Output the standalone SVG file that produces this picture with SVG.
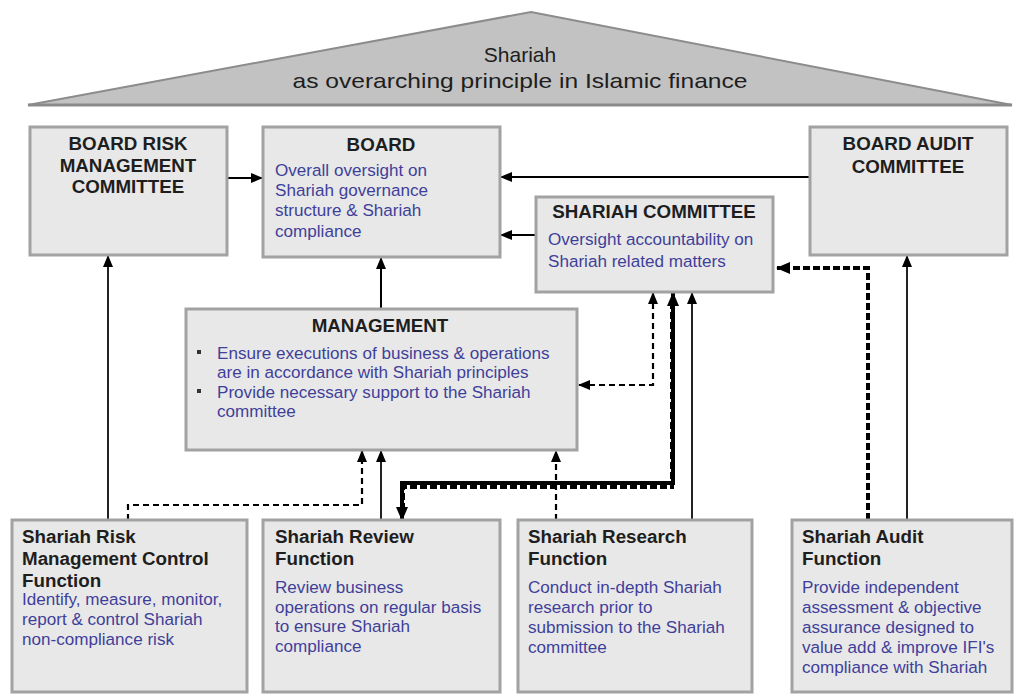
<svg xmlns="http://www.w3.org/2000/svg" width="1022" height="694" viewBox="0 0 1022 694">
<style>
.box{fill:#e8e8e8;stroke:#a2a2a2;stroke-width:3}
.t{font-family:"Liberation Sans",Arial,sans-serif;font-weight:bold;font-size:18.8px;fill:#1e1e1e}
.b{font-family:"Liberation Sans",Arial,sans-serif;font-size:17.1px;fill:#3f3f9a}
.c{text-anchor:middle}
.roof{font-family:"Liberation Sans",Arial,sans-serif;font-size:21px;fill:#1e1e1e;text-anchor:middle}
.ln{fill:none;stroke:#000;stroke-width:2}
.thin{fill:none;stroke:#222;stroke-width:2}
.dash{fill:none;stroke:#000;stroke-width:2.2;stroke-dasharray:6 4}
.dashk{fill:none;stroke:#000;stroke-width:4;stroke-dasharray:7 3}
.thick{fill:none;stroke:#000;stroke-width:4}
</style>
<defs>
<marker id="ah" viewBox="0 0 12 10" refX="11" refY="5" markerWidth="12" markerHeight="10" markerUnits="userSpaceOnUse" orient="auto-start-reverse">
<path d="M0,0 L12,5 L0,10 z" fill="#000"/>
</marker>
<marker id="ahb" viewBox="0 0 14 12" refX="13" refY="6" markerWidth="14" markerHeight="12" markerUnits="userSpaceOnUse" orient="auto-start-reverse">
<path d="M0,0 L14,6 L0,12 z" fill="#000"/>
</marker>
</defs>
<rect width="1022" height="694" fill="#ffffff"/>

<g id="roof">
<polygon points="28,105 531,12 1012,105" fill="#c2c2c2" stroke="#8c8c8c" stroke-width="2"/>
<line x1="28" y1="105" x2="1012" y2="105" stroke="#8a8a8a" stroke-width="3"/>
<text class="roof" x="520" y="62">Shariah</text>
<text class="roof" x="520" y="88" textLength="455" lengthAdjust="spacingAndGlyphs">as overarching principle in Islamic finance</text>
</g>

<g id="connectors">
<line class="ln" x1="227" y1="178" x2="262" y2="178" marker-end="url(#ah)"/>
<line class="ln" x1="810" y1="177" x2="501" y2="177" marker-end="url(#ah)"/>
<line class="ln" x1="536" y1="235" x2="501" y2="235" marker-end="url(#ah)"/>
<line class="ln" x1="381" y1="309" x2="381" y2="258" marker-end="url(#ah)"/>
<line class="thin" x1="108" y1="520" x2="108" y2="256" marker-end="url(#ah)"/>
<line class="thin" x1="907" y1="520" x2="907" y2="256" marker-end="url(#ah)"/>
<path class="dash" d="M128,520 V505 H362 V451" marker-end="url(#ah)"/>
<line class="thin" x1="381" y1="520" x2="381" y2="451" marker-end="url(#ah)"/>
<line class="dash" x1="556" y1="520" x2="556" y2="451" marker-end="url(#ah)"/>
<line class="thin" x1="692" y1="520" x2="692" y2="293" marker-end="url(#ah)"/>
<path class="dash" d="M653,293 V385 H579" marker-start="url(#ah)" marker-end="url(#ah)"/>
<path class="dashk" d="M403,510 V487 H672 V300"/>
<path class="thick" d="M673,293 V483 H402 V520" marker-start="url(#ahb)" marker-end="url(#ahb)"/>
<path class="dashk" d="M868,520 V268 H777" marker-end="url(#ahb)"/>
</g>

<g id="brmc">
<rect class="box" x="30" y="127" width="197" height="128"/>
<text class="t c" x="128" y="150">BOARD RISK</text>
<text class="t c" x="128" y="172">MANAGEMENT</text>
<text class="t c" x="128" y="193">COMMITTEE</text>
</g>

<g id="board">
<rect class="box" x="263" y="127" width="237" height="130"/>
<text class="t c" x="381" y="151">BOARD</text>
<text class="b" x="275" y="176">Overall oversight on</text>
<text class="b" x="275" y="196">Shariah governance</text>
<text class="b" x="275" y="216">structure &amp; Shariah</text>
<text class="b" x="275" y="237">compliance</text>
</g>

<g id="bac">
<rect class="box" x="810" y="127" width="197" height="128"/>
<text class="t c" x="908" y="150">BOARD AUDIT</text>
<text class="t c" x="908" y="173">COMMITTEE</text>
</g>

<g id="sc">
<rect class="box" x="536" y="197" width="237" height="95"/>
<text class="t c" x="654" y="218">SHARIAH COMMITTEE</text>
<text class="b" x="548" y="245">Oversight accountability on</text>
<text class="b" x="548" y="267">Shariah related matters</text>
</g>

<g id="mgmt">
<rect class="box" x="186" y="309" width="391" height="141"/>
<text class="t c" x="380" y="332">MANAGEMENT</text>
<rect x="197" y="350" width="4" height="4" fill="#333"/>
<rect x="197" y="389" width="4" height="4" fill="#333"/>
<text class="b" x="217" y="359">Ensure executions of business &amp; operations</text>
<text class="b" x="217" y="378">are in accordance with Shariah principles</text>
<text class="b" x="217" y="398">Provide necessary support to the Shariah</text>
<text class="b" x="217" y="417">committee</text>
</g>

<g id="srmcf">
<rect class="box" x="12" y="520" width="235" height="172"/>
<text class="t" x="22" y="543">Shariah Risk</text>
<text class="t" x="22" y="565">Management Control</text>
<text class="t" x="22" y="587">Function</text>
<text class="b" x="22" y="605">Identify, measure, monitor,</text>
<text class="b" x="22" y="625">report &amp; control Shariah</text>
<text class="b" x="22" y="645">non-compliance risk</text>
</g>

<g id="review">
<rect class="box" x="263" y="520" width="237" height="172"/>
<text class="t" x="275" y="543">Shariah Review</text>
<text class="t" x="275" y="565">Function</text>
<text class="b" x="275" y="593">Review business</text>
<text class="b" x="275" y="613">operations on regular basis</text>
<text class="b" x="275" y="632">to ensure Shariah</text>
<text class="b" x="275" y="652">compliance</text>
</g>

<g id="research">
<rect class="box" x="518" y="520" width="234" height="172"/>
<text class="t" x="528" y="543">Shariah Research</text>
<text class="t" x="528" y="565">Function</text>
<text class="b" x="528" y="593">Conduct in-depth Shariah</text>
<text class="b" x="528" y="613">research prior to</text>
<text class="b" x="528" y="633">submission to the Shariah</text>
<text class="b" x="528" y="653">committee</text>
</g>

<g id="audit">
<rect class="box" x="792" y="520" width="220" height="172"/>
<text class="t" x="802" y="543">Shariah Audit</text>
<text class="t" x="802" y="565">Function</text>
<text class="b" x="802" y="593">Provide independent</text>
<text class="b" x="802" y="613">assessment &amp; objective</text>
<text class="b" x="802" y="633">assurance designed to</text>
<text class="b" x="802" y="653">value add &amp; improve IFI's</text>
<text class="b" x="802" y="673">compliance with Shariah</text>
</g>
</svg>
